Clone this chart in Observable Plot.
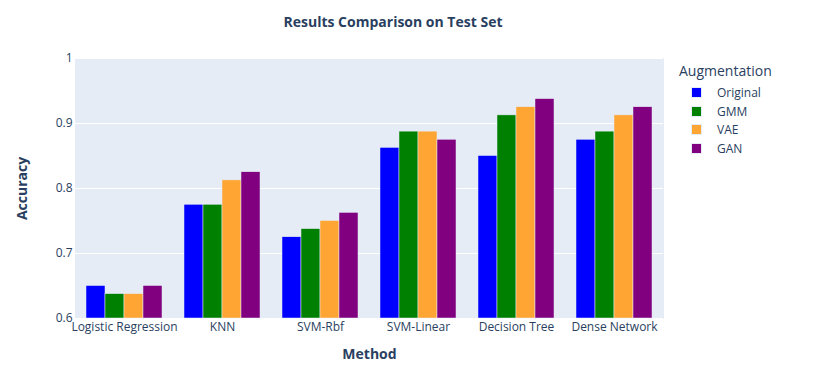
<!DOCTYPE html>
<html>
<head>
<meta charset="utf-8">
<script src="https://cdn.jsdelivr.net/npm/d3@7"></script>
<script src="https://cdn.jsdelivr.net/npm/@observablehq/plot@0.6"></script>
<style>
  html, body { margin: 0; padding: 0; background: white; }
  #wrap { position: relative; width: 830px; height: 376px; font-family: "Open Sans", sans-serif; color: #2a3f5f; }
  #title { position: absolute; left: 0; width: 786px; top: 12px; text-align: center; font-size: 14px; font-weight: bold; }
  #legend { position: absolute; left: 679px; top: 61px; }
  #legend .lt { font-size: 14px; margin-bottom: 3px; }
  #legend .item { display: flex; align-items: center; height: 18.7px; font-size: 12px; }
  #legend .sw { width: 11px; height: 11px; margin-left: 12px; margin-right: 15px; box-sizing: border-box; border: 0.5px solid #e5ecf6; }
  svg g[aria-label="y-axis label"] text, svg g[aria-label="fx-axis label"] text { font-weight: bold; font-size: 14px; }
</style>
</head>
<body>
<div id="wrap">
  <div id="chart"></div>
  <div id="title">Results Comparison on Test Set</div>
  <div id="legend"></div>
</div>
<script>
const methods = ["Logistic Regression", "KNN", "SVM-Rbf", "SVM-Linear", "Decision Tree", "Dense Network"];
const augmentations = ["Original", "GMM", "VAE", "GAN"];
const original = [0.65, 0.775, 0.725, 0.8625, 0.85, 0.875];
const gmm = [0.6375, 0.775, 0.7375, 0.8875, 0.9125, 0.8875];
const vae = [0.6375, 0.8125, 0.75, 0.8875, 0.925, 0.9125];
const gan = [0.65, 0.825, 0.7625, 0.875, 0.9375, 0.925];
const colors = ["blue", "green", "#ffa533", "purple"];
const yTicks = [0.6, 0.7, 0.8, 0.9, 1];

const series = [original, gmm, vae, gan];
const data = methods.flatMap((m, i) => augmentations.map((a, j) => ({method: m, aug: a, value: series[j][i]})));

const chart = Plot.plot({
  width: 830,
  height: 376,
  marginLeft: 72,
  marginRight: 165,
  marginTop: 58,
  marginBottom: 58,
  style: {fontFamily: "'Open Sans', sans-serif", fontSize: "12px", color: "#2a3f5f", background: "transparent", overflow: "visible"},
  fx: {domain: methods, padding: 0, axis: "bottom", label: "Method", labelArrow: false, labelAnchor: "center", labelOffset: 40, tickSize: 0, tickPadding: 4},
  x: {domain: augmentations, paddingInner: 0, paddingOuter: 0.5, axis: null},
  y: {domain: [0.6, 1], ticks: yTicks, tickFormat: d3.format("~g"), tickSize: 0, tickPadding: 3, label: "Accuracy", labelArrow: false, labelAnchor: "center", labelOffset: 58, grid: false},
  color: {domain: augmentations, range: colors},
  marks: [
    Plot.frame({fill: "#e5ecf6", stroke: "#e5ecf6", strokeWidth: 1}),
    Plot.gridY(yTicks, {stroke: "white", strokeOpacity: 1, strokeWidth: 1}),
    Plot.barY(data, {fx: "method", x: "aug", y1: 0.6, y2: "value", fill: "aug", stroke: "#e5ecf6", strokeWidth: 0.5, inset: 0})
  ]
});
document.getElementById("chart").appendChild(chart);

const legend = document.getElementById("legend");
legend.innerHTML = `<div class="lt">Augmentation</div>` + augmentations.map((a, i) =>
  `<div class="item"><span class="sw" style="background:${colors[i]}"></span>${a}</div>`).join("");
</script>
</body>
</html>
